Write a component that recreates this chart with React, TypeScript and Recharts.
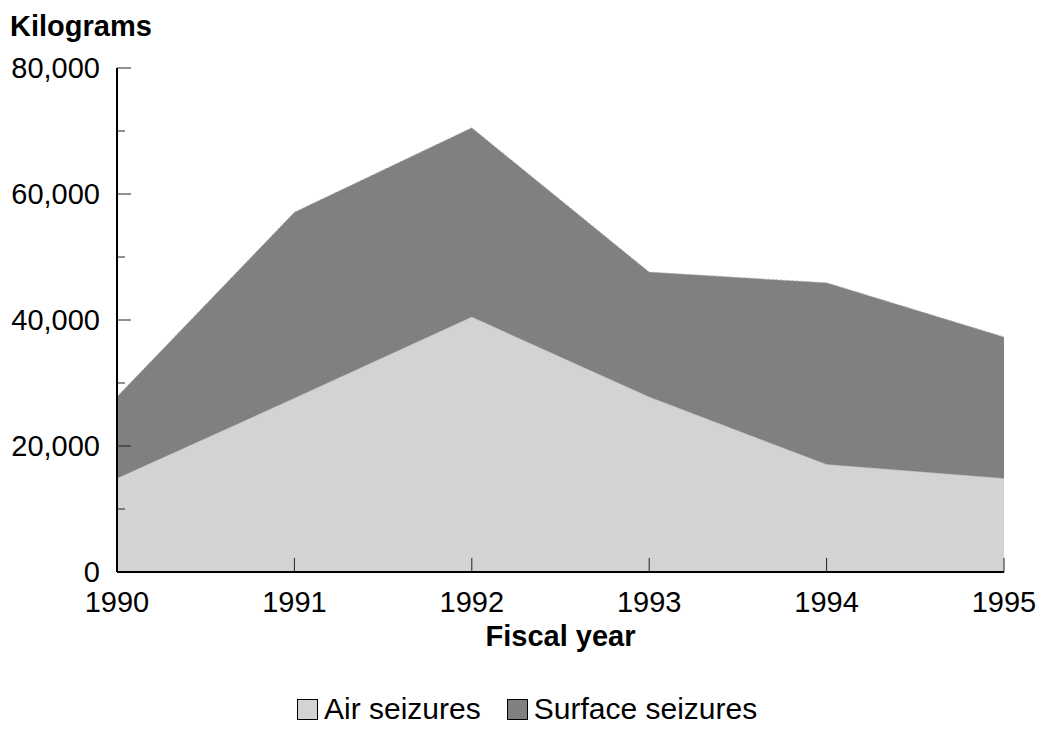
import React from "react";
import { AreaChart, Area, XAxis, YAxis } from "recharts";

const years = [1990, 1991, 1992, 1993, 1994, 1995];
const airSeizures = [14900, 27600, 40500, 27800, 17100, 14900];
const surfaceSeizures = [12900, 29500, 30000, 19800, 28800, 22400];
const yTicks = [0, 10000, 20000, 30000, 40000, 50000, 60000, 70000, 80000];

const data = years.map((year, i) => ({
  year,
  air: airSeizures[i],
  surface: surfaceSeizures[i],
}));

const FONT = "'Liberation Sans', Arial, sans-serif";

const YTick = (props: any) => {
  const { x, y, payload } = props;
  const major = payload.value % 20000 === 0;
  return (
    <g>
      {payload.value !== 0 && (
        <line x1={x} y1={y} x2={x + (major ? 14 : 8)} y2={y} stroke="#222" strokeWidth={1} />
      )}
      {major && (
        <text x={x - 17} y={y + 10} textAnchor="end" fontSize={29} fontFamily={FONT} fill="#000">
          {payload.value.toLocaleString("en-US")}
        </text>
      )}
    </g>
  );
};

const XTick = (props: any) => {
  const { x, y, payload } = props;
  return (
    <g>
      {payload.value !== 1990 && (
        <line x1={x} y1={y} x2={x} y2={y - 14} stroke="#222" strokeWidth={1} />
      )}
      <text x={x} y={y + 40} textAnchor="middle" fontSize={29} fontFamily={FONT} fill="#000">
        {payload.value}
      </text>
    </g>
  );
};

const legendItems = [
  { label: "Air seizures", color: "#d3d3d3" },
  { label: "Surface seizures", color: "#808080" },
];

export default function App() {
  return (
    <div style={{ position: "relative", width: 1040, height: 729, fontFamily: FONT }}>
      <style>{`html, body { margin: 0; overflow: hidden; }`}</style>
      <div
        style={{
          position: "absolute",
          left: 10,
          top: 11,
          fontSize: 29,
          fontWeight: "bold",
          lineHeight: "30px",
        }}
      >
        Kilograms
      </div>
      <div style={{ position: "absolute", left: 8, top: 8 }}>
        <AreaChart
          width={1032}
          height={650}
          data={data}
          margin={{ top: 60, right: 36, left: 0, bottom: 0 }}
        >
          <XAxis
            dataKey="year"
            type="number"
            domain={[1990, 1995]}
            ticks={years}
            height={86}
            tickSize={0}
            tickMargin={0}
            tick={<XTick />}
            axisLine={{ stroke: "#000", strokeWidth: 2 }}
            label={{
              value: "Fiscal year",
              position: "insideBottom",
              offset: 12,
              style: { fontSize: 29, fontWeight: "bold", fill: "#000", fontFamily: FONT },
            }}
          />
          <YAxis
            domain={[0, 80000]}
            ticks={yTicks}
            width={109}
            tickSize={0}
            tickMargin={0}
            tick={<YTick />}
            axisLine={{ stroke: "#000", strokeWidth: 2 }}
            interval={0}
          />
          <Area
            type="linear"
            dataKey="air"
            stackId="1"
            fill="#d3d3d3"
            fillOpacity={1}
            stroke="#c2c2c2"
            strokeWidth={1.5}
            dot={false}
            activeDot={false}
            isAnimationActive={false}
          />
          <Area
            type="linear"
            dataKey="surface"
            stackId="1"
            fill="#808080"
            fillOpacity={1}
            stroke="#b0b0b0"
            strokeDasharray="2 2"
            strokeWidth={1}
            dot={false}
            activeDot={false}
            isAnimationActive={false}
          />
        </AreaChart>
      </div>
      <div
        style={{
          position: "absolute",
          left: 297,
          top: 694,
          display: "flex",
          alignItems: "center",
          fontSize: 30,
          lineHeight: "30px",
        }}
      >
        {legendItems.map((item) => (
          <div key={item.label} style={{ display: "flex", alignItems: "center", marginRight: 26 }}>
            <span
              style={{
                display: "inline-block",
                width: 19,
                height: 19,
                background: item.color,
                border: "1.5px solid #000",
                marginRight: 6,
              }}
            />
            <span>{item.label}</span>
          </div>
        ))}
      </div>
    </div>
  );
}
